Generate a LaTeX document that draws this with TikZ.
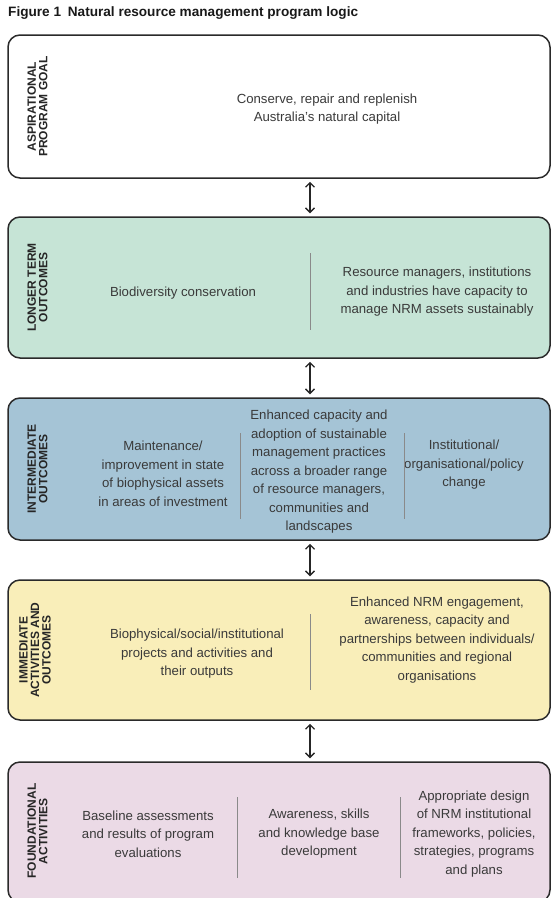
\documentclass[tikz,border=0pt]{standalone}
\usepackage{fontspec}
\setmainfont{Liberation Sans}
\usetikzlibrary{arrows.meta}
\definecolor{boxline}{HTML}{2A2A2A}
\definecolor{txt}{HTML}{3A3A3A}
\definecolor{divgrey}{HTML}{8A8A8A}
\definecolor{cgreen}{HTML}{C6E4D6}
\definecolor{cblue}{HTML}{A5C4D6}
\definecolor{cyellow}{HTML}{F9EEB9}
\definecolor{cpink}{HTML}{EBDAE6}
\begin{document}
\begin{tikzpicture}[x=1pt,y=-1pt,
  stagebox/.style={draw=boxline, line width=1.5pt, rounded corners=12pt, minimum width=542pt, inner sep=0pt},
  lbl/.style={rotate=90, align=center, font=\fontsize{12}{11.5}\selectfont\bfseries, text=black!85},
  body/.style={align=center, font=\fontsize{13.2}{18.5}\selectfont, text=txt, inner sep=0pt},
  divider/.style={draw=divgrey, line width=0.7pt},
  link/.style={draw=black!85, line width=1.4pt, {Straight Barb[length=4.5pt,width=9pt]}-{Straight Barb[length=4.5pt,width=9pt]}, shorten <=3pt, shorten >=3pt}
]
\useasboundingbox (0,0) rectangle (551,898);

\node[anchor=west, inner sep=0pt, font=\fontsize{13.6}{15}\selectfont\bfseries, text=black!90] (title) at (8,13) {Figure 1\enspace Natural resource management program logic};

% boxes
\node[stagebox, fill=white, minimum height=143pt] (b1) at (279,106.5) {};
\node[stagebox, fill=cgreen, minimum height=141pt] (b2) at (279,287.5) {};
\node[stagebox, fill=cblue, minimum height=142pt] (b3) at (279,469) {};
\node[stagebox, fill=cyellow, minimum height=140pt] (b4) at (279,650) {};
\node[stagebox, fill=cpink, minimum height=140pt] (b5) at (279,832) {};

% arrows
\coordinate (ax) at (310,0);
\draw[link] (b1.south -| ax) -- (b2.north -| ax);
\draw[link] (b2.south -| ax) -- (b3.north -| ax);
\draw[link] (b3.south -| ax) -- (b4.north -| ax);
\draw[link] (b4.south -| ax) -- (b5.north -| ax);

% side labels
\node[lbl] (l1) at (37.5,106.5) {ASPIRATIONAL\\PROGRAM GOAL};
\node[lbl] (l2) at (37.5,287.5) {LONGER TERM\\OUTCOMES};
\node[lbl] (l3) at (37.5,469) {INTERMEDIATE\\OUTCOMES};
\node[lbl] (l4) at (35,650) {IMMEDIATE\\ACTIVITIES AND\\OUTCOMES};
\node[lbl] (l5) at (37.5,831) {FOUNDATIONAL\\ACTIVITIES};

% box 1
\node[body] (t1) at (327,109) {Conserve, repair and replenish\\Australia’s natural capital};

% box 2
\node[body] (t2a) at (183,293) {Biodiversity conservation};
\node[body] (t2b) at (437,292) {Resource managers, institutions\\and industries have capacity to\\manage NRM assets sustainably};
\coordinate (d2t) at (310,253); \coordinate (d2b) at (310,330);
\draw[divider] (d2t) -- (d2b);

% box 3
\node[body] (t3a) at (163,474) {Maintenance/\\improvement in state\\of biophysical assets\\in areas of investment};
\node[body] (t3b) at (319,472) {Enhanced capacity and\\adoption of sustainable\\management practices\\across a broader range\\of resource managers,\\communities and\\landscapes};
\node[body] (t3c) at (464,465) {Institutional/\\organisational/policy\\change};
\coordinate (d3at) at (240,433); \coordinate (d3ab) at (240,519);
\coordinate (d3bt) at (404,433); \coordinate (d3bb) at (404,519);
\draw[divider] (d3at) -- (d3ab);
\draw[divider] (d3bt) -- (d3bb);

% box 4
\node[body] (t4a) at (197,654) {Biophysical/social/institutional\\projects and activities and\\their outputs};
\node[body] (t4b) at (437,640) {Enhanced NRM engagement,\\awareness, capacity and\\partnerships between individuals/\\communities and regional\\organisations};
\coordinate (d4t) at (310,614); \coordinate (d4b) at (310,690);
\draw[divider] (d4t) -- (d4b);

% box 5
\node[body] (t5a) at (148,834) {Baseline assessments\\and results of program\\evaluations};
\node[body] (t5b) at (319,834) {Awareness, skills\\and knowledge base\\development};
\node[body] (t5c) at (474,834) {Appropriate design\\of NRM institutional\\frameworks, policies,\\strategies, programs\\and plans};
\coordinate (d5at) at (237,797); \coordinate (d5ab) at (237,878);
\coordinate (d5bt) at (400,797); \coordinate (d5bb) at (400,878);
\draw[divider] (d5at) -- (d5ab);
\draw[divider] (d5bt) -- (d5bb);
\end{tikzpicture}
\end{document}
